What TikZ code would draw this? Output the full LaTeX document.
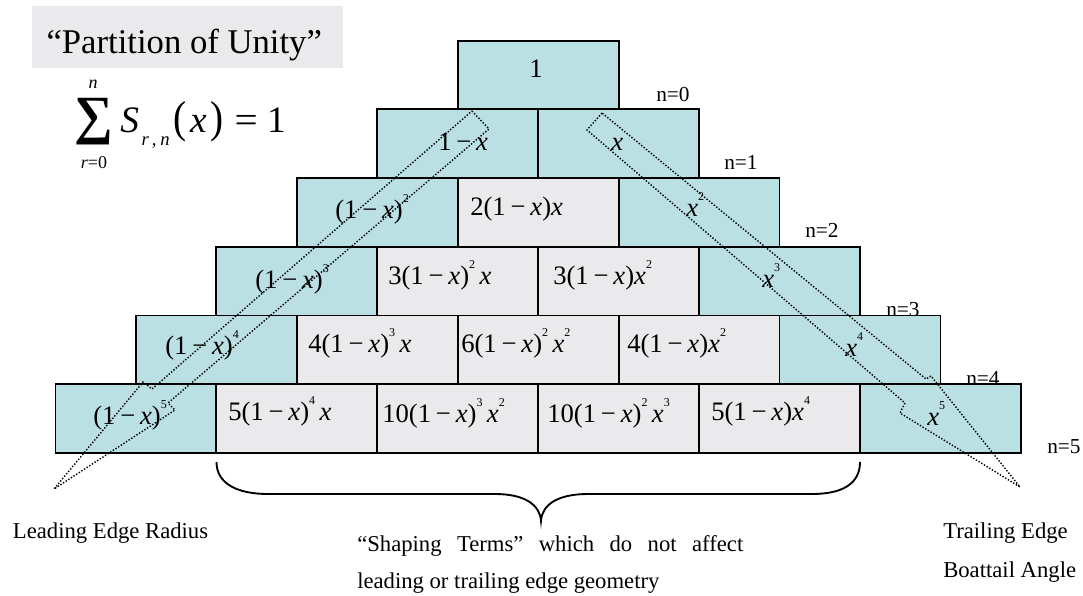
\documentclass[tikz,border=0pt]{standalone}
\usepackage{fontspec}
\setmainfont{Liberation Serif}
\usepackage{graphicx}
\definecolor{cellblue}{RGB}{187,224,227}
\definecolor{cellgrey}{RGB}{234,234,236}
\definecolor{titlegrey}{RGB}{234,234,236}
\newcommand{\xx}{\textit{x}}
\newcommand{\mi}{\kern0.18em−\kern0.18em}
\newcommand{\su}[1]{\raisebox{0.6em}{\fontsize{9}{9}\selectfont #1}}
\begin{document}
\begin{tikzpicture}[x=0.75pt,y=-0.75pt,
  cell/.style={draw=black,line width=1.4pt,inner sep=0pt,minimum width=120.675pt,minimum height=51.525pt},
  lab/.style={inner sep=0pt,anchor=base west,font=\fontsize{20}{24}\selectfont},
  nlab/.style={inner sep=0pt,anchor=base west,font=\fontsize{16}{19}\selectfont},
  txt/.style={inner sep=0pt,anchor=base west,font=\fontsize{17}{20}\selectfont},
  dots/.style={line width=1.05pt,dash pattern=on 1.05pt off 1.3pt},
  bracestyle/.style={line width=1.4pt}]
\useasboundingbox (0,0) rectangle (1083,596);

% title
\node[fill=titlegrey,inner sep=0pt,minimum width=233pt,minimum height=46.3pt] (tbox) at (187.35,36.85) {};
\node[inner sep=0pt,anchor=base,font=\fontsize{26}{30}\selectfont] (title) at (184.2,53) {“Partition of Unity”};

% formula
\node[inner sep=0pt] (sum) at (93.4,121.5) {\resizebox*{29pt}{35pt}{\bfseries ∑}};
\node[inner sep=0pt,anchor=base,font=\fontsize{13.5}{14}\selectfont\itshape] (sumtop) at (93,88) {n};
\node[inner sep=0pt,anchor=base,font=\fontsize{13.5}{14}\selectfont] (sumbot) at (94,168) {\textit{r}=0};
\node[inner sep=0pt,anchor=base west,font=\fontsize{28}{32}\selectfont] (srn) at (120,132)
 {\textit{S}\raisebox{-0.35em}{\fontsize{14}{14}\selectfont\kern0.15em\textit{r}\kern0.15em,\kern0.2em\textit{n}}\kern0.1em\scalebox{1.05}[1.2]{(}\kern0.1em\textit{x}\kern0.1em\scalebox{1.05}[1.2]{)}\kern0.3em\scalebox{1.1}[1]{=}\kern0.25em1};

% n labels (behind boxes)
\node[nlab] (n0) at (656,101) {n=0};
\node[nlab] (n1) at (724,169) {n=1};
\node[nlab] (n2) at (805,237) {n=2};
\node[nlab] (n3) at (886,316) {n=3};
\node[nlab] (n4) at (966,385) {n=4};
\node[nlab] (n5) at (1047,453) {n=5};

% cells
\foreach \n in {0,...,5}{
  \foreach \r in {0,...,\n}{
    \pgfmathsetmacro{\cx}{538.2-(\n+1)*80.45+(\r+0.5)*160.9}
    \pgfmathsetmacro{\cy}{40.7+(\n+0.5)*68.7}
    \ifnum\r=0 \def\fc{cellblue}\else\ifnum\r=\n \def\fc{cellblue}\else\def\fc{cellgrey}\fi\fi
    \node[cell,fill=\fc] (c\n\r) at (\cx,\cy) {};
  }
}

% cell labels
\node[lab,anchor=base] (l00) at (536,77) {1};
\node[lab] (l10) at (438,150) {1\mi\xx};
\node[lab] (l11) at (611,150) {\xx};
\node[lab] (l20) at (335,218) {(1\mi\xx)\su{2}};
\node[lab] (l21) at (470,215) {2(1\mi\xx)\xx};
\node[lab] (l22) at (686,216) {\xx\su{2}};
\node[lab] (l30) at (255,288) {(1\mi\xx)\su{3}};
\node[lab] (l31) at (388,284) {3(1\mi\xx)\su{2}\,\xx};
\node[lab] (l32) at (553,284) {3(1\mi\xx)\xx\su{2}};
\node[lab] (l33) at (762,287) {\xx\su{3}};
\node[lab] (l40) at (165,354) {(1\mi\xx)\su{4}};
\node[lab] (l41) at (308,352) {4(1\mi\xx)\su{3}\,\xx};
\node[lab] (l42) at (461,352) {6(1\mi\xx)\su{2}\,\xx\su{2}};
\node[lab] (l43) at (627,352) {4(1\mi\xx)\xx\su{2}};
\node[lab] (l44) at (845,356) {\xx\su{4}};
\node[lab] (l50) at (93,424) {(1\mi\xx)\su{5}};
\node[lab] (l51) at (228,420) {5(1\mi\xx)\su{4}\,\xx};
\node[lab] (l52) at (382,422) {10(1\mi\xx)\su{3}\,\xx\su{2}};
\node[lab] (l53) at (547,422) {10(1\mi\xx)\su{2}\,\xx\su{3}};
\node[lab] (l54) at (711,420) {5(1\mi\xx)\xx\su{4}};
\node[lab] (l55) at (927,425) {\xx\su{5}};

% dotted leading edge shape
\draw[dots] (472,111) -- (489,129) -- (168,403) -- (175,410) -- (54,489) -- (143,382) -- (152,389) -- cycle;
% dotted trailing edge shape
\draw[dots] (602,113) -- (587,130) -- (905,403) -- (900,413) -- (1020,487) -- (931,376) -- (926,379) -- cycle;

% brace
\draw[bracestyle] (216.5,462) .. controls (216.5,484) and (238,494) .. (268,494) -- (495,494)
  .. controls (525,494) and (540,505) .. (541,521)
  .. controls (542,505) and (557,494) .. (588,494) -- (812,494)
  .. controls (842,494) and (860,484) .. (860,462);

% bottom texts
\node[txt] (led) at (12.7,538) {Leading Edge Radius};
\node[txt] (te1) at (943,538) {Trailing Edge};
\node[txt] (te2) at (943,577) {Boattail Angle};
\node[txt] (sh1) at (357,551.7) {\makebox[289.5pt][s]{“Shaping Terms” which do not affect}};
\node[txt] (sh2) at (357,588.3) {leading or trailing edge geometry};
\end{tikzpicture}
\end{document}
